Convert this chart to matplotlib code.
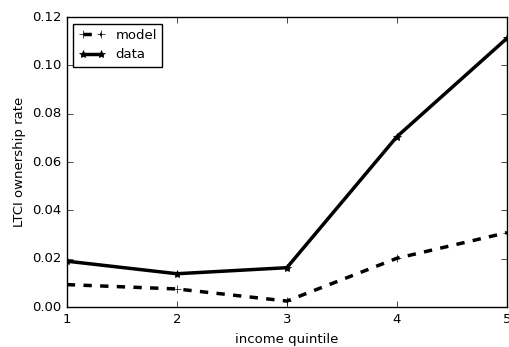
import matplotlib
matplotlib.use("Agg")
import matplotlib.pyplot as plt

plt.style.use('classic')

quintile = [1, 2, 3, 4, 5]
model = [0.0093, 0.0075, 0.0025, 0.0202, 0.0308]
data = [0.0190, 0.0138, 0.0163, 0.0705, 0.1112]

fig = plt.figure(figsize=(5.1, 3.47), dpi=100)
ax = fig.add_axes([0.131, 0.115, 0.863, 0.836])

ax.plot(quintile, model, 'k--', marker='+', markersize=6, linewidth=2.5, label='model')
ax.plot(quintile, data, 'k-', marker='*', markersize=6, linewidth=2.5, label='data')

ax.set_xlim(1, 5)
ax.set_ylim(0, 0.12)
ax.set_xticks(quintile)
ax.set_yticks([0.0, 0.02, 0.04, 0.06, 0.08, 0.10, 0.12])
ax.tick_params(labelsize=9.5)
ax.set_xlabel('income quintile', fontsize=9.5)
ax.set_ylabel('LTCI ownership rate', fontsize=9.5, labelpad=4)
ax.legend(loc='upper left', fontsize=9.5)

fig.savefig('out.png', dpi=100, facecolor='white')
